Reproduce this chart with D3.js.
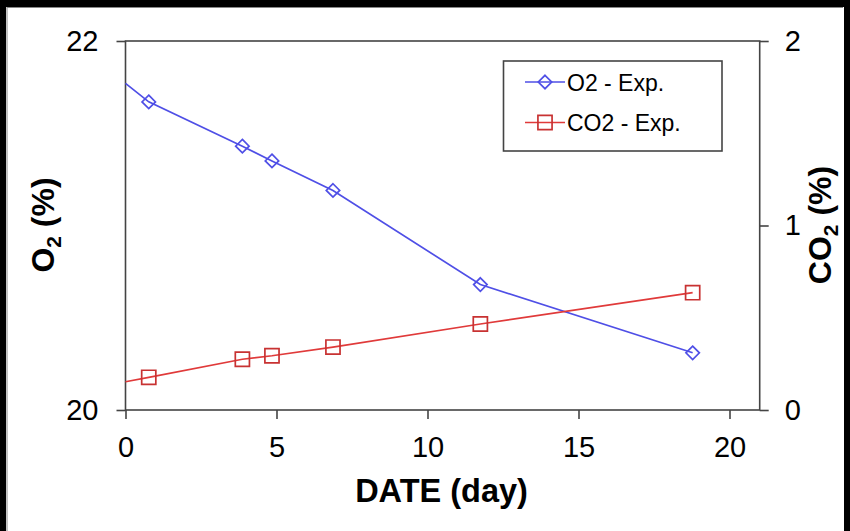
<!DOCTYPE html>
<html>
<head>
<meta charset="utf-8">
<script src="https://cdn.jsdelivr.net/npm/d3@7"></script>
<style>
  html, body { margin: 0; padding: 0; background: #fff; }
  svg { display: block; font-family: "Liberation Sans", Arial, sans-serif; }
</style>
</head>
<body>
<svg id="chart" width="850" height="531"></svg>
<script>
// ---- data ----
const days      = [0.77, 3.87, 4.85, 6.87, 11.75, 18.78];
const o2Values  = [21.67, 21.43, 21.35, 21.19, 20.68, 20.31];
const co2Values = [0.177, 0.275, 0.294, 0.341, 0.466, 0.636];
// line start at day 0 (no marker)
const startDay = 0;
const o2Start  = 21.77;
const co2Start = 0.153;
const xTicks   = [0, 5, 10, 15, 20];
const yLeftTicks  = [20, 22];
const yRightTicks = [0, 1, 2];
const seriesNames = ["O2 - Exp.", "CO2 - Exp."];

// ---- layout ----
const svg = d3.select("#chart");
const L = 125.5, R = 759.7, T = 41, B = 410;
const x  = d3.scaleLinear().domain([0, 21]).range([L, R]);
const yL = d3.scaleLinear().domain([20, 22]).range([B, T]);
const yR = d3.scaleLinear().domain([0, 2]).range([B, T]);
const axisColor = "#444";
const blue = "#4f4fe6", red = "#e03a3a", redMk = "#c83232";

svg.append("rect").attr("width", 850).attr("height", 531).attr("fill", "#fff");

// outer dark frame of the picture
svg.append("rect").attr("x", 0).attr("y", 0).attr("width", 850).attr("height", 7).attr("fill", "#000");
svg.append("rect").attr("x", 0).attr("y", 0).attr("width", 6).attr("height", 531).attr("fill", "#000");
svg.append("rect").attr("x", 844).attr("y", 0).attr("width", 6).attr("height", 531).attr("fill", "#000");
svg.append("line").attr("x1", 7).attr("x2", 7).attr("y1", 7).attr("y2", 531).attr("stroke", "#888").attr("stroke-width", 1);
svg.append("line").attr("x1", 7).attr("x2", 843).attr("y1", 7.5).attr("y2", 7.5).attr("stroke", "#888").attr("stroke-width", 1);

// axes
function styleAxis(g) {
  g.select(".domain").remove();
  g.selectAll(".tick line").attr("stroke", axisColor).attr("stroke-width", 1.6);
  g.selectAll(".tick text").attr("fill", "#000").attr("font-size", 29)
    .attr("font-family", "'Liberation Sans', Arial, sans-serif");
}
svg.append("g").attr("transform", `translate(0,${B})`)
  .call(d3.axisBottom(x).tickValues(xTicks).tickSize(9).tickPadding(17).tickFormat(d3.format("d")))
  .call(styleAxis);
svg.append("g").attr("transform", `translate(${L},0)`)
  .call(d3.axisLeft(yL).tickValues(yLeftTicks).tickSize(9).tickPadding(18).tickFormat(d3.format("d")))
  .call(styleAxis);
svg.append("g").attr("transform", `translate(${R},0)`)
  .call(d3.axisRight(yR).tickValues(yRightTicks).tickSize(9).tickPadding(16).tickFormat(d3.format("d")))
  .call(styleAxis);

// plot frame
svg.append("rect").attr("x", L).attr("y", T).attr("width", R - L).attr("height", B - T)
  .attr("fill", "none").attr("stroke", axisColor).attr("stroke-width", 1.6);

// series lines
const o2Pts  = [[startDay, o2Start]].concat(days.map((d, i) => [d, o2Values[i]]));
const co2Pts = [[startDay, co2Start]].concat(days.map((d, i) => [d, co2Values[i]]));
svg.append("path").datum(o2Pts)
  .attr("d", d3.line().x(d => x(d[0])).y(d => yL(d[1])))
  .attr("fill", "none").attr("stroke", blue).attr("stroke-width", 1.7);
svg.append("path").datum(co2Pts)
  .attr("d", d3.line().x(d => x(d[0])).y(d => yR(d[1])))
  .attr("fill", "none").attr("stroke", red).attr("stroke-width", 1.7);

// markers
const diamond = d3.symbol().type(d3.symbolDiamond2).size(115);
const square  = d3.symbol().type(d3.symbolSquare).size(200);
svg.append("g").selectAll("path").data(days.map((d, i) => [d, o2Values[i]])).join("path")
  .attr("d", diamond)
  .attr("transform", d => `translate(${x(d[0])},${yL(d[1])})`)
  .attr("fill", "none").attr("stroke", blue).attr("stroke-width", 1.7);
svg.append("g").selectAll("path").data(days.map((d, i) => [d, co2Values[i]])).join("path")
  .attr("d", square)
  .attr("transform", d => `translate(${x(d[0])},${yR(d[1])})`)
  .attr("fill", "none").attr("stroke", redMk).attr("stroke-width", 1.7);

// axis titles
svg.append("text").attr("x", 441.5).attr("y", 502).attr("text-anchor", "middle")
  .attr("font-size", 32.5).attr("font-weight", "bold").text("DATE (day)");

function yTitle(cx, cy, main, rest) {
  const t = svg.append("text")
    .attr("transform", `translate(${cx},${cy}) rotate(-90)`)
    .attr("text-anchor", "middle").attr("font-size", 32).attr("font-weight", "bold");
  t.append("tspan").text(main);
  t.append("tspan").attr("font-size", 21).attr("dy", 7).text("2");
  t.append("tspan").attr("dy", -7).text(rest);
}
yTitle(54, 225, "O", " (%)");
yTitle(831, 225, "CO", " (%)");

// legend
const lg = svg.append("g");
lg.append("rect").attr("x", 503.5).attr("y", 61).attr("width", 218.5).attr("height", 90)
  .attr("fill", "#fff").attr("stroke", axisColor).attr("stroke-width", 1.6);
const legendRows = [
  { name: seriesNames[0], color: blue, mk: diamond, mkColor: blue, y: 82 },
  { name: seriesNames[1], color: red, mk: square, mkColor: redMk, y: 122.5 }
];
legendRows.forEach(r => {
  lg.append("line").attr("x1", 525).attr("x2", 565).attr("y1", r.y).attr("y2", r.y)
    .attr("stroke", r.color).attr("stroke-width", 1.7);
  lg.append("path").attr("d", r.mk).attr("transform", `translate(545,${r.y})`)
    .attr("fill", "none").attr("stroke", r.mkColor).attr("stroke-width", 1.7);
  lg.append("text").attr("x", 567).attr("y", r.y + 8.5).attr("font-size", 23)
    .attr("fill", "#000").text(r.name);
});
</script>
</body>
</html>
